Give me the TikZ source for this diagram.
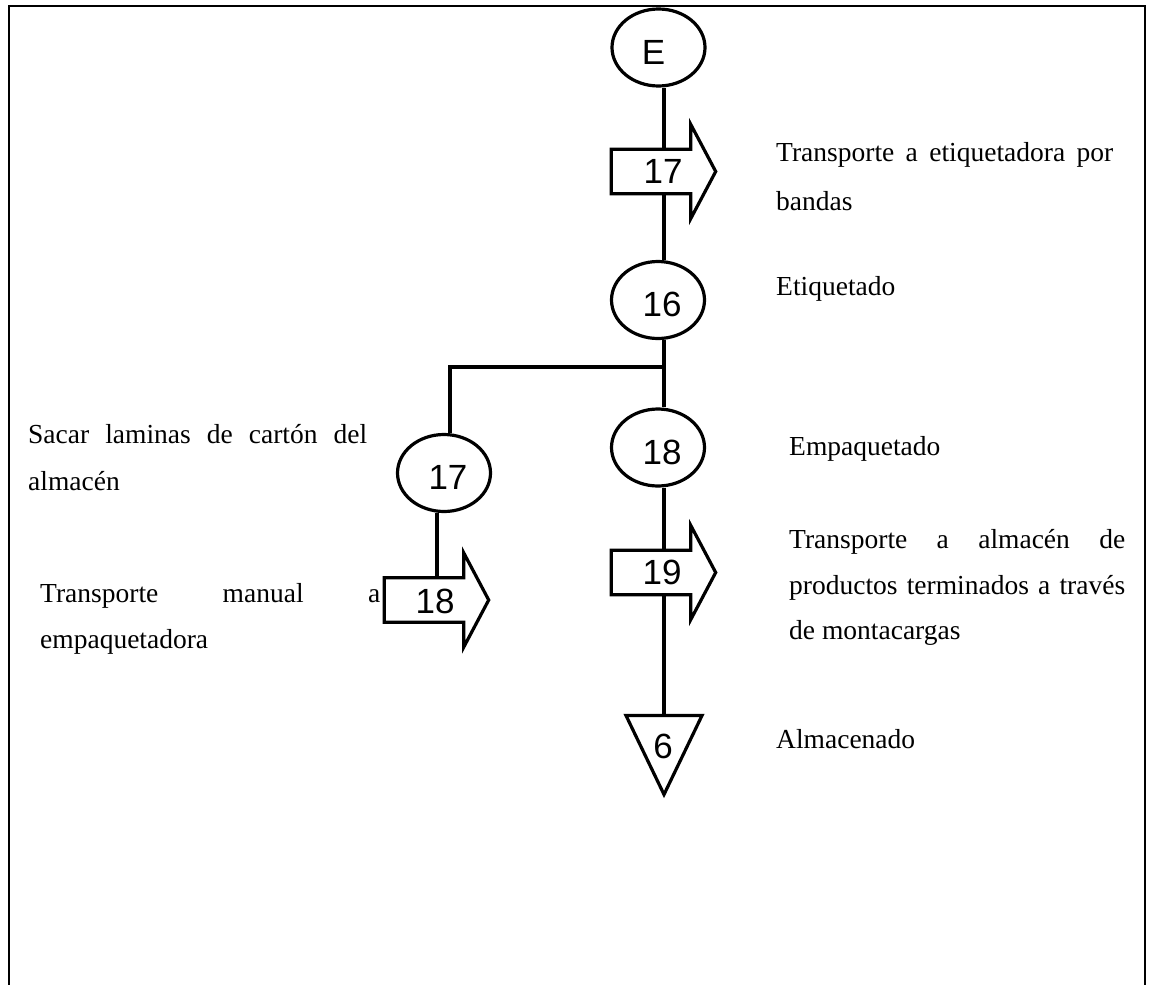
\documentclass[tikz,border=0pt]{standalone}
\usepackage{fontspec}
\setmainfont{Liberation Serif}
\newfontfamily\numfont{Liberation Sans}
\usetikzlibrary{calc,shapes.geometric}
\begin{document}
\begin{tikzpicture}[x=1pt,y=-1pt,
  shapeline/.style={line width=3.2pt, line join=miter},
  flowline/.style={line width=3.2pt},
  opnode/.style={draw, shapeline, ellipse, minimum width=93pt, minimum height=77pt,
    inner sep=0pt, text height=33pt, text depth=0pt,
    font=\numfont\fontsize{35}{40}\selectfont},
  bodybox/.style={rectangle, minimum width=79pt, minimum height=44pt, inner sep=0pt},
  numtext/.style={inner sep=0pt, font=\numfont\fontsize{35}{40}\selectfont},
  note/.style={anchor=base west, inner sep=0pt, font=\fontsize{27.5}{33}\selectfont},
]
\useasboundingbox (0,0) rectangle (1151,985);

% outer frame, open at the bottom
\draw[line width=2pt] (9,985) -- (9,6) -- (1145,6) -- (1145,985);

% block arrow outline around a body node
\newcommand{\blockarrow}[1]{%
  \draw[shapeline] (#1.north west) -- (#1.north east) -- ++(0,-25)
    -- ($(#1.east)+(25,0)$) -- ($(#1.south east)+(0,25)$)
    -- (#1.south east) -- (#1.south west) -- cycle;}

% main column
\coordinate (spine) at (664,0);
\node[opnode] (E)   at (658.5,47.5) {E\hspace*{10pt}};
\node[bodybox] (a17) at (651,171.5) {};
\blockarrow{a17}
\node[numtext] (n17) at (663,171) {17};
\node[opnode] (o16) at (658,300) {\hspace*{8pt}16};
\node[opnode] (o18) at (658,447.5) {\hspace*{8pt}18};
\node[bodybox] (a19) at (651,572.5) {};
\blockarrow{a19}
\node[numtext] (n19) at (662,572) {19};
\coordinate (tri6top) at (664,715.5);
\draw[shapeline] ($(tri6top)+(-38,0)$) -- ($(tri6top)+(38,0)$) -- ($(tri6top)+(0,79)$) -- cycle;
\node[numtext] (n6) at (663,746) {6};

% side branch
\coordinate (fork) at (664,367);
\node[opnode] (o17) at (444,473) {\hspace*{8pt}17};
\node[bodybox] (a18) at (424,600) {};
\blockarrow{a18}
\node[numtext] (n18) at (435,601) {18};

% connectors
\draw[flowline] (E.south -| spine) -- (a17.north -| spine);
\draw[flowline] (a17.south -| spine) -- (o16.north -| spine);
\draw[flowline] (o16.south -| spine) -- (o18.north -| spine);
\draw[flowline] (fork) -| ([xshift=6pt]o17.north);
\draw[flowline] ([xshift=-7pt]o17.south) -- ([xshift=-7pt]o17.south |- a18.north);
\draw[flowline] (o18.south -| spine) -- (a19.north -| spine);
\draw[flowline] (a19.south -| spine) -- (tri6top);

% descriptions
\node[note] (t1a) at (776,161) {\makebox[337pt][s]{Transporte a etiquetadora por}};
\node[note] (t1b) at (776,210) {bandas};
\node[note] (t2)  at (776,295) {Etiquetado};
\node[note] (t3)  at (789,455) {Empaquetado};
\node[note] (t4a) at (789,548) {\makebox[336pt][s]{Transporte a almacén de}};
\node[note] (t4b) at (789,594) {\makebox[336pt][s]{productos terminados a través}};
\node[note] (t4c) at (789,639) {de montacargas};
\node[note] (t5)  at (776,748) {Almacenado};
\node[note] (t6a) at (28,443) {\makebox[339pt][s]{Sacar laminas de cartón del}};
\node[note] (t6b) at (28,490) {almacén};
\node[note] (t7a) at (40,602) {\makebox[340pt][s]{Transporte manual a}};
\node[note] (t7b) at (40,648) {empaquetadora};
\end{tikzpicture}
\end{document}
